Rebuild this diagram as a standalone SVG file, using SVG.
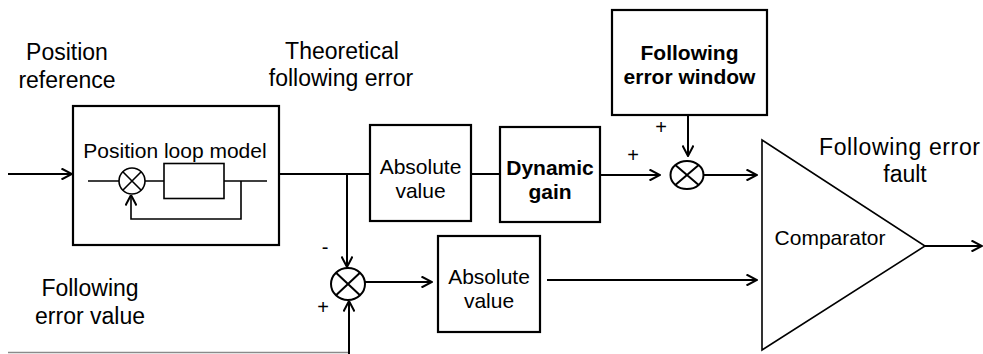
<svg xmlns="http://www.w3.org/2000/svg" width="983" height="354" viewBox="0 0 983 354">
<style>
text{font-family:"Liberation Sans",Arial,sans-serif;fill:#000}
.lbl{font-size:23px}
.in{font-size:21px}
.b{font-size:21px;font-weight:bold}
.sg{font-size:20px}
.box{fill:#fff;stroke:#000;stroke-width:2.2}
.ln{fill:none;stroke:#000;stroke-width:2}
.thin{fill:none;stroke:#000;stroke-width:1.6}
</style>
<defs>
<marker id="ah" viewBox="0 0 12 12" refX="11.5" refY="6" markerWidth="12" markerHeight="12" markerUnits="userSpaceOnUse" orient="auto">
<path d="M1,0.5 L11.5,6 L1,11.5" fill="none" stroke="#000" stroke-width="2"/>
</marker>
</defs>
<rect width="983" height="354" fill="#fff"/>

<g id="labels">
<text class="lbl" x="67" y="60" text-anchor="middle">Position</text>
<text class="lbl" x="67" y="88" text-anchor="middle">reference</text>
<text class="lbl" x="342" y="58.5" text-anchor="middle">Theoretical</text>
<text class="lbl" x="341" y="86" text-anchor="middle">following error</text>
<text class="lbl" x="90" y="296" text-anchor="middle">Following</text>
<text class="lbl" x="90" y="323.5" text-anchor="middle">error value</text>
<text class="lbl" x="819" y="155" textLength="161" lengthAdjust="spacing">Following error</text>
<text class="lbl" x="905" y="182" text-anchor="middle">fault</text>
<text class="sg" x="325" y="254" text-anchor="middle">-</text>
<text class="sg" x="323" y="314" text-anchor="middle">+</text>
<text class="sg" x="633" y="162" text-anchor="middle">+</text>
<text class="sg" x="661" y="134" text-anchor="middle">+</text>
</g>

<g id="position-loop-model">
<rect class="box" x="73" y="106" width="206" height="139"/>
<text class="in" x="175" y="158" text-anchor="middle">Position loop model</text>
<rect class="thin" x="164" y="163.5" width="60" height="35"/>
<circle class="thin" cx="132" cy="181" r="13"/>
<path class="thin" d="M122.8,171.8 L141.2,190.2 M141.2,171.8 L122.8,190.2"/>
<path class="thin" d="M88,181 H119 M145,181 H164 M224,181 H267 M241,181 V219 H131 V195" marker-end="url(#ah)"/>
</g>

<g id="absolute-value-1">
<rect class="box" x="370" y="125" width="101" height="96"/>
<text class="in" x="420.5" y="174" text-anchor="middle">Absolute</text>
<text class="in" x="420.5" y="197.5" text-anchor="middle">value</text>
</g>

<g id="dynamic-gain">
<rect class="box" x="500" y="127" width="100" height="95"/>
<text class="b" x="550" y="175" text-anchor="middle">Dynamic</text>
<text class="b" x="550" y="198.5" text-anchor="middle">gain</text>
</g>

<g id="following-error-window">
<rect class="box" x="612" y="10" width="155" height="105"/>
<text class="b" x="689.5" y="60" text-anchor="middle">Following</text>
<text class="b" x="689.5" y="83.5" text-anchor="middle">error window</text>
</g>

<g id="sum-top">
<ellipse class="ln" cx="687" cy="175" rx="16.5" ry="14"/>
<path class="ln" d="M675.3,165.1 L698.7,184.9 M698.7,165.1 L675.3,184.9"/>
</g>

<g id="sum-bottom">
<ellipse class="ln" cx="348" cy="284" rx="17" ry="16"/>
<path class="ln" d="M336,272.7 L360,295.3 M360,272.7 L336,295.3"/>
</g>

<g id="absolute-value-2">
<rect class="box" x="438" y="236" width="102" height="96"/>
<text class="in" x="489" y="284" text-anchor="middle">Absolute</text>
<text class="in" x="489" y="307.5" text-anchor="middle">value</text>
</g>

<g id="comparator">
<path d="M762,140 L925,246 L762,350 Z" fill="#fff" stroke="#000" stroke-width="1.6"/>
<text class="in" x="830" y="245" text-anchor="middle">Comparator</text>
</g>

<g id="connectors">
<path class="ln" d="M8,174 H72" marker-end="url(#ah)"/>
<path class="ln" d="M279,174 H370"/>
<path class="ln" d="M347,174 V267" marker-end="url(#ah)"/>
<path class="ln" d="M471,174 H500"/>
<path class="ln" d="M600,175 H660" marker-end="url(#ah)"/>
<path class="ln" d="M688,116 V156" marker-end="url(#ah)"/>
<path class="ln" d="M703.5,175 H757" marker-end="url(#ah)"/>
<path class="ln" d="M365,282 H432" marker-end="url(#ah)"/>
<path class="ln" d="M547,280 H757" marker-end="url(#ah)"/>
<path d="M8,352.5 H349" fill="none" stroke="#8a8a8a" stroke-width="1.5"/>
<path class="ln" d="M349,354 V301" marker-end="url(#ah)"/>
<path class="ln" d="M925,246 H982" marker-end="url(#ah)"/>
</g>
</svg>
